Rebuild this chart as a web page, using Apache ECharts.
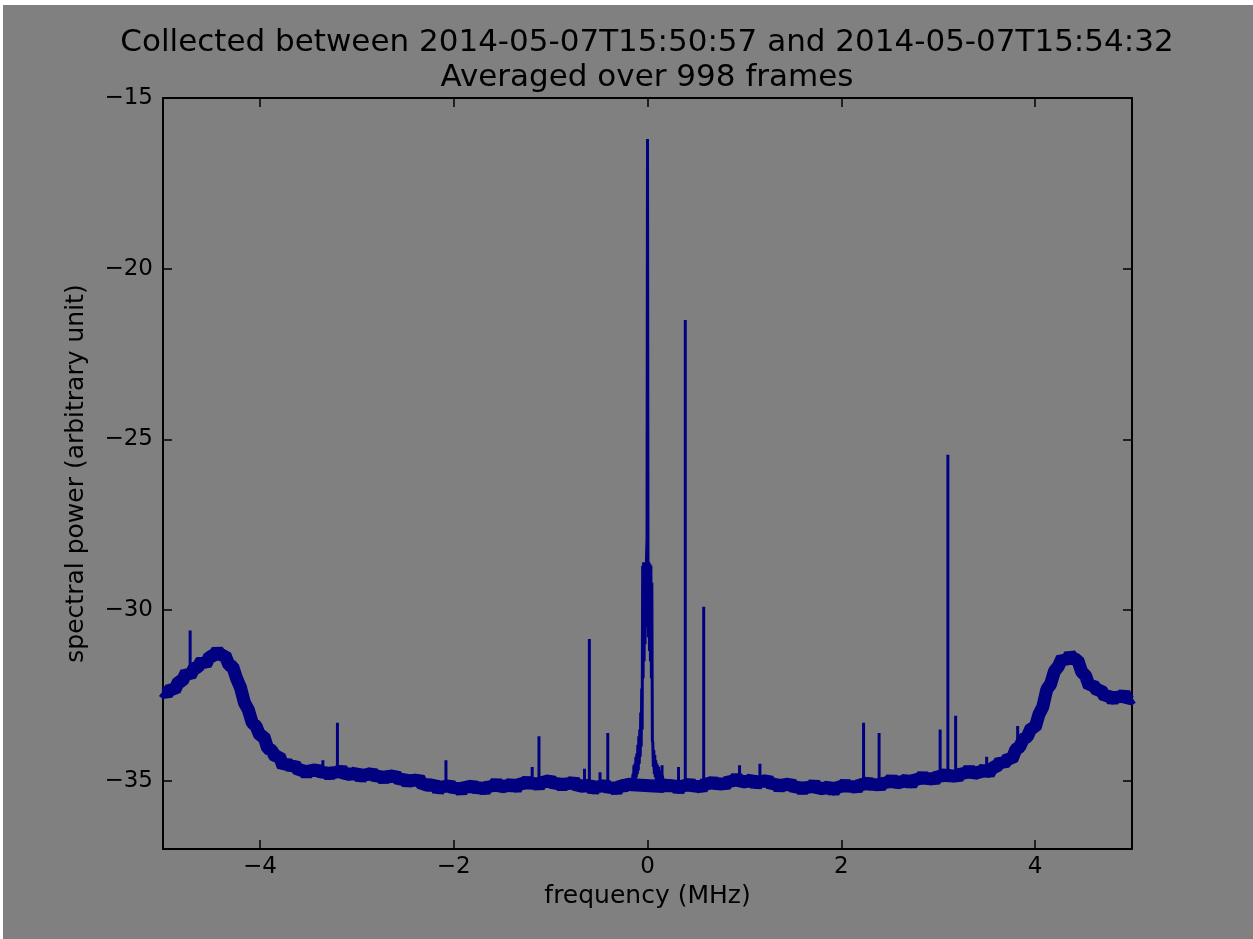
<!DOCTYPE html>
<html>
<head>
<meta charset="utf-8">
<script src="https://cdn.jsdelivr.net/npm/echarts@6/dist/echarts.min.js"></script>
<style>
html,body{margin:0;padding:0;background:#ffffff;width:1253px;height:939px;overflow:hidden;}
#c{position:absolute;left:3px;top:5px;width:1250px;height:934px;}
</style>
</head>
<body>
<div id="c"></div>
<script>
// ---------------- data ----------------
const titleLines = ['Collected between 2014-05-07T15:50:57 and 2014-05-07T15:54:32', 'Averaged over 998 frames'];
const xName = 'frequency (MHz)';
const yName = 'spectral power (arbitrary unit)';
const xTicks = [-4, -2, 0, 2, 4];
const yTicks = [-35, -30, -25, -20, -15];

// noise floor (band centre) left of carrier: starts at -5.00 MHz, step 0.04 MHz
const leftStart = -5.0, bandStep = 0.04;
const leftBand = [
 -32.37,-32.46,-32.30,-32.35,-32.10,-32.08,-31.83,-31.92,-31.71,-31.67,
 -31.48,-31.60,-31.36,-31.35,-31.19,-31.34,-31.32,-31.61,-31.66,-32.01,
 -32.27,-32.71,-32.92,-33.30,-33.40,-33.68,-33.70,-34.05,-34.11,-34.30,
 -34.28,-34.58,-34.48,-34.60,-34.53,-34.71,-34.67,-34.81,-34.66,-34.73,
 -34.65,-34.80,-34.72,-34.85,-34.71,-34.80,-34.65,-34.85,-34.77,-34.84,
 -34.73,-34.94,-34.78,-34.85,-34.75,-34.91,-34.83,-34.98,-34.82,-34.91,
 -34.83,-34.99,-34.92,-35.07,-34.94,-35.04,-34.92,-35.14,-35.09,-35.17,
 -35.07,-35.29,-35.13,-35.20,-35.10,-35.26,-35.17,-35.31,-35.14,-35.21,
 -35.12,-35.26,-35.16,-35.29,-35.13,-35.20,-35.04,-35.22,-35.13,-35.18,
 -35.05,-35.24,-35.06,-35.11,-34.99,-35.13,-35.03,-35.17,-34.99,-35.06,
 -34.97,-35.12,-35.04,-35.18,-35.04,-35.13,-34.99,-35.19,-35.12,-35.19,
 -35.08,-35.29,-35.13,-35.20,-35.09,-35.25,-35.16,-35.30,-35.12,-35.17,
 -35.10,-35.12
];
// noise floor (band centre) right of carrier: starts at 0.16 MHz, step 0.04 MHz
const rightStart = 0.16;
const rightBand = [
 -35.17,-35.09,-35.20,-35.08,-35.28,-35.11,-35.17,-35.06,-35.21,-35.12,
 -35.23,-35.05,-35.11,-35.01,-35.14,-35.04,-35.15,-34.98,-35.05,-34.89,
 -35.07,-34.99,-35.05,-34.93,-35.14,-34.98,-35.05,-34.96,-35.13,-35.06,
 -35.22,-35.07,-35.15,-35.07,-35.23,-35.15,-35.29,-35.15,-35.23,-35.08,
 -35.27,-35.19,-35.25,-35.13,-35.33,-35.15,-35.20,-35.08,-35.22,-35.12,
 -35.25,-35.07,-35.13,-35.03,-35.16,-35.06,-35.18,-35.02,-35.09,-34.93,
 -35.11,-35.01,-35.06,-34.93,-35.12,-34.93,-34.98,-34.85,-34.99,-34.89,
 -35.01,-34.83,-34.89,-34.78,-34.91,-34.81,-34.92,-34.75,-34.82,-34.65,
 -34.83,-34.73,-34.77,-34.63,-34.81,-34.60,-34.60,-34.43,-34.51,-34.34,
 -34.38,-34.09,-34.01,-33.77,-33.71,-33.45,-33.45,-33.05,-32.83,-32.33,
 -32.17,-31.79,-31.65,-31.40,-31.51,-31.31,-31.44,-31.46,-31.81,-31.92,
 -32.23,-32.19,-32.36,-32.34,-32.54,-32.49,-32.65,-32.50,-32.59,-32.44,
 -32.64,-32.56
];
// noise extremes of the floor (jagged edge), same grid as leftBand / rightBand
const leftNoise = [
 -32.27,-32.55,-32.28,-32.45,-32.03,-32.13,-31.75,-32.02,-31.70,-31.74,
 -31.40,-31.69,-31.30,-31.38,-31.11,-31.42,-31.27,-31.69,-31.59,-32.03,
 -32.17,-32.80,-32.90,-33.40,-33.33,-33.73,-33.62,-34.15,-34.10,-34.37,
 -34.20,-34.67,-34.42,-34.63,-34.45,-34.79,-34.62,-34.89,-34.59,-34.75,
 -34.55,-34.89,-34.70,-34.95,-34.64,-34.85,-34.57,-34.95,-34.76,-34.91,
 -34.65,-35.03,-34.72,-34.88,-34.67,-34.99,-34.78,-35.06,-34.75,-34.93,
 -34.73,-35.08,-34.90,-35.17,-34.87,-35.09,-34.84,-35.24,-35.08,-35.24,
 -34.99,-35.38,-35.07,-35.23,-35.02,-35.34,-35.12,-35.39,-35.07,-35.23,
 -35.02,-35.35,-35.14,-35.39,-35.06,-35.25,-34.96,-35.32,-35.12,-35.25,
 -34.97,-35.33,-35.00,-35.14,-34.91,-35.21,-34.98,-35.25,-34.92,-35.08,
 -34.87,-35.21,-35.02,-35.28,-34.97,-35.18,-34.91,-35.29,-35.11,-35.26,
 -35.00,-35.38,-35.07,-35.23,-35.01,-35.33,-35.11,-35.38,-35.05,-35.19,
 -35.00,-35.15
];
const rightNoise = [
 -35.17,-35.08,-35.27,-35.00,-35.37,-35.05,-35.20,-34.98,-35.29,-35.07,
 -35.31,-34.98,-35.13,-34.91,-35.23,-35.02,-35.25,-34.91,-35.10,-34.81,
 -35.17,-34.98,-35.12,-34.85,-35.23,-34.92,-35.08,-34.88,-35.21,-35.01,
 -35.30,-35.00,-35.17,-34.97,-35.32,-35.13,-35.39,-35.08,-35.28,-35.00,
 -35.37,-35.18,-35.32,-35.05,-35.42,-35.09,-35.23,-35.00,-35.30,-35.07,
 -35.33,-35.00,-35.15,-34.93,-35.25,-35.04,-35.28,-34.95,-35.14,-34.85,
 -35.21,-35.00,-35.13,-34.85,-35.21,-34.87,-35.01,-34.77,-35.07,-34.84,
 -35.09,-34.76,-34.91,-34.68,-35.00,-34.79,-35.02,-34.68,-34.87,-34.57,
 -34.93,-34.72,-34.84,-34.55,-34.90,-34.54,-34.63,-34.35,-34.59,-34.29,
 -34.46,-34.02,-34.03,-33.67,-33.80,-33.43,-33.55,-32.98,-32.88,-32.25,
 -32.27,-31.78,-31.72,-31.32,-31.60,-31.25,-31.47,-31.38,-31.89,-31.87,
 -32.31,-32.12,-32.38,-32.24,-32.63,-32.47,-32.75,-32.43,-32.64,-32.36,
 -32.74,-32.55
];
// central carrier: starts at -0.16 MHz, step 0.005 MHz
const centerStart = -0.16, centerStep = 0.005;
const centerBand = [
 -34.90,-35.10,-34.80,-35.05,-34.55,-35.00,-34.50,-35.00,-34.30,-34.90,
 -34.20,-34.80,-33.95,-34.70,-33.70,-34.50,-33.50,-34.30,-33.00,-34.00,
 -32.30,-33.50,-28.70,-32.00,-28.60,-31.50,-28.65,-31.00,-28.60,-30.50,
 -28.40,-27.90,-16.20,-28.60,-30.80,-28.60,-31.20,-28.65,-31.50,-28.70,
 -32.00,-29.20,-33.80,-33.90,-34.60,-34.10,-34.80,-34.25,-34.90,-34.40,
 -35.00,-34.50,-35.00,-34.55,-35.05,-34.60,-35.00,-34.70,-35.05,-34.75,
 -35.10,-34.80,-35.05,-34.85,-35.10
];
// narrow spurs: [frequency MHz, floor level, peak power]
const spikes = [
 [-4.79,-32.10,-31.80],[-4.72,-31.90,-30.60],[-3.35,-34.70,-34.40],[-3.20,-34.75,-33.30],
 [-2.08,-35.15,-34.40],[-1.19,-35.05,-34.60],[-1.12,-35.05,-33.70],[-0.65,-35.15,-34.65],
 [-0.60,-35.15,-30.85],[-0.49,-35.18,-34.75],[-0.41,-35.18,-33.60],[0.15,-35.10,-34.55],
 [0.32,-35.15,-34.60],[0.39,-35.15,-21.50],[0.58,-35.12,-29.90],[0.95,-35.00,-34.55],
 [1.16,-35.00,-34.50],[2.23,-35.12,-33.30],[2.39,-35.08,-33.60],[3.02,-34.88,-33.50],
 [3.10,-34.86,-25.45],[3.18,-34.83,-33.10],[3.50,-34.70,-34.30],[3.82,-34.10,-33.40]
];

// ---------------- build tables ----------------
function seg(start, stp, arr) {
  return arr.map((v, i) => [Math.round((start + i * stp) * 10000) / 10000, v]);
}
const floorPts = seg(leftStart, bandStep, leftBand).concat(seg(rightStart, bandStep, rightBand));
const noisePts = seg(leftStart, bandStep, leftNoise).concat(seg(rightStart, bandStep, rightNoise));
const carrierPts = seg(centerStart, centerStep, centerBand);
const spurPts = [];
spikes.forEach(s => { spurPts.push([s[0], s[1]], [s[0], s[2]], [s[0], '-']); });

const minus = v => (v < 0 ? '\u2212' + Math.abs(v) : String(v));
const FONT = '"DejaVu Sans", "Liberation Sans", sans-serif';
const NAVY = '#000080';
const axisLineStyle = { color: '#000', width: 2 };
const tickStyle = { color: '#000', width: 1.5 };

const chart = echarts.init(document.getElementById('c'));
chart.setOption({
  backgroundColor: '#808080',
  animation: false,
  grid: { left: 160, top: 93, right: 121, bottom: 90, containLabel: false },
  graphic: [
    { type: 'text', x: 644, y: 38, style: { text: titleLines[0], fill: '#000', fontSize: 31, fontFamily: FONT, align: 'center', verticalAlign: 'middle' } },
    { type: 'text', x: 644, y: 73, style: { text: titleLines[1], fill: '#000', fontSize: 31, fontFamily: FONT, align: 'center', verticalAlign: 'middle' } }
  ],
  xAxis: [
    {
      type: 'value', min: -5, max: 5, position: 'bottom',
      name: xName, nameLocation: 'middle', nameGap: 35,
      nameTextStyle: { color: '#000', fontSize: 25, fontFamily: FONT },
      axisLine: { show: true, onZero: false, lineStyle: axisLineStyle },
      axisTick: { show: true, inside: true, length: 9, customValues: xTicks, lineStyle: tickStyle },
      axisLabel: { show: true, margin: 7, customValues: xTicks, formatter: minus, color: '#000', fontSize: 23, fontFamily: FONT },
      splitLine: { show: false }
    },
    {
      type: 'value', min: -5, max: 5, position: 'top',
      axisLine: { show: true, onZero: false, lineStyle: axisLineStyle },
      axisTick: { show: true, inside: true, length: 9, customValues: xTicks, lineStyle: tickStyle },
      axisLabel: { show: false },
      splitLine: { show: false }
    }
  ],
  yAxis: [
    {
      type: 'value', min: -37, max: -15, position: 'left',
      name: yName, nameLocation: 'middle', nameGap: 74,
      nameTextStyle: { color: '#000', fontSize: 25, fontFamily: FONT },
      axisLine: { show: true, onZero: false, lineStyle: axisLineStyle },
      axisTick: { show: true, inside: true, length: 9, customValues: yTicks, lineStyle: tickStyle },
      axisLabel: { show: true, margin: 10, customValues: yTicks, formatter: minus, color: '#000', fontSize: 23, fontFamily: FONT },
      splitLine: { show: false }
    },
    {
      type: 'value', min: -37, max: -15, position: 'right',
      axisLine: { show: true, onZero: false, lineStyle: axisLineStyle },
      axisTick: { show: true, inside: true, length: 9, customValues: yTicks, lineStyle: tickStyle },
      axisLabel: { show: false },
      splitLine: { show: false }
    }
  ],
  series: [
    {
      name: 'floor', type: 'line', xAxisIndex: 0, yAxisIndex: 0,
      data: floorPts, showSymbol: false, symbol: 'none', clip: true,
      lineStyle: { color: NAVY, width: 13, join: 'bevel', cap: 'butt' }, z: 2
    },
    {
      name: 'floorNoise', type: 'line', xAxisIndex: 0, yAxisIndex: 0,
      data: noisePts, showSymbol: false, symbol: 'none', clip: true,
      lineStyle: { color: NAVY, width: 3, join: 'bevel' }, z: 2
    },
    {
      name: 'carrier', type: 'line', xAxisIndex: 0, yAxisIndex: 0,
      data: carrierPts, showSymbol: false, symbol: 'none', clip: true,
      lineStyle: { color: NAVY, width: 3 }, z: 3
    },
    {
      name: 'spurs', type: 'line', xAxisIndex: 0, yAxisIndex: 0,
      data: spurPts, showSymbol: false, symbol: 'none', clip: true, connectNulls: false,
      lineStyle: { color: NAVY, width: 3 }, z: 3
    }
  ]
});
</script>
</body>
</html>
